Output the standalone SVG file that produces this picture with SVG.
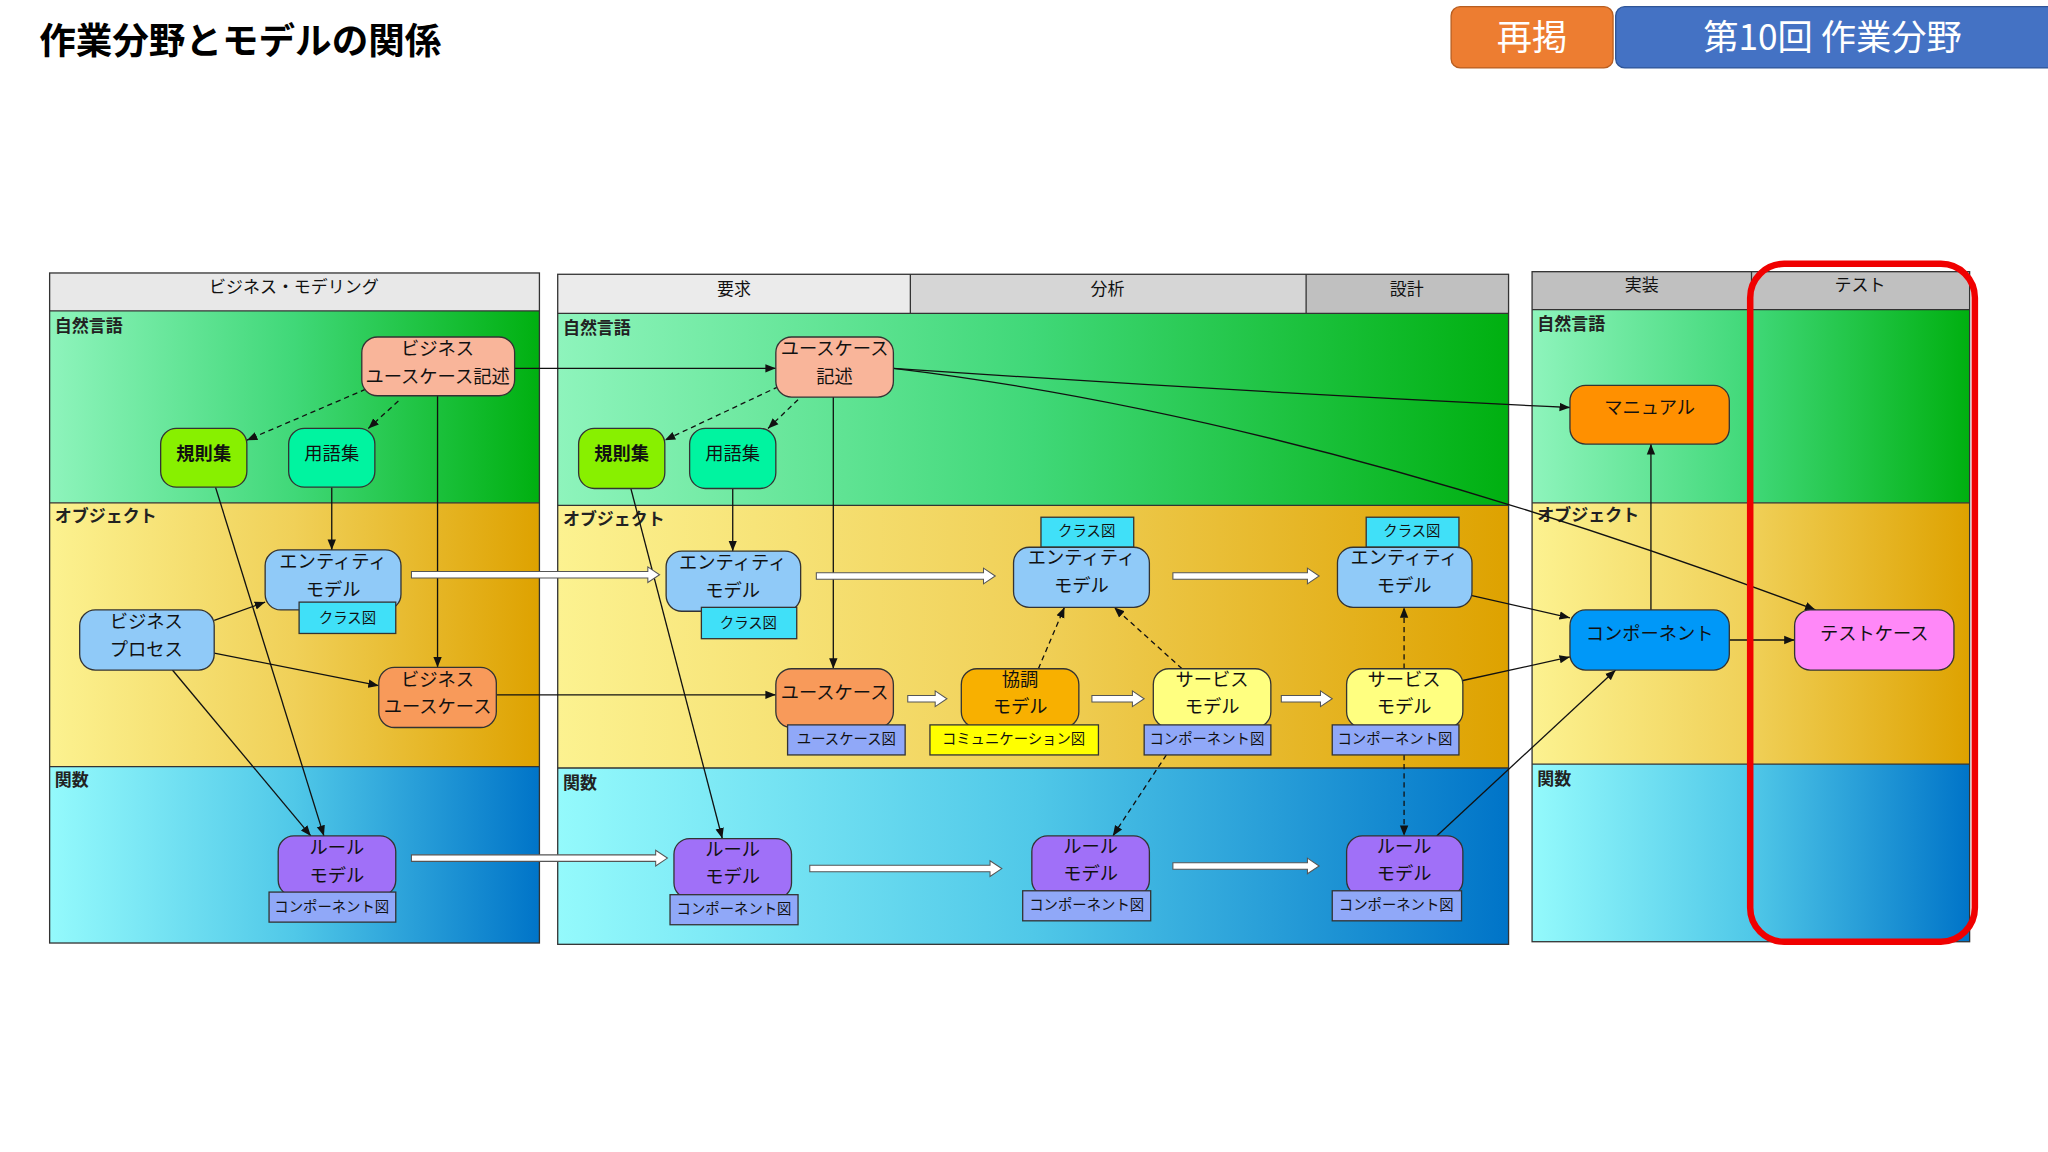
<svg xmlns="http://www.w3.org/2000/svg" width="2048" height="1152" viewBox="0 0 2048 1152">
<style>
text{font-family:"Noto Sans CJK JP","Noto Sans",sans-serif;fill:#111}
.hd{font-size:13px;text-anchor:middle}
.rl{font-size:13px;font-weight:bold;fill:#222}
.n{stroke:#333;stroke-width:1}
.nt{font-size:14px;text-anchor:middle}
.tg{stroke:#333;stroke-width:1}
.tt{font-size:11px;text-anchor:middle}
.c{stroke:#111;stroke-width:1;fill:none;marker-end:url(#ah)}
.d{stroke:#111;stroke-width:1;fill:none;stroke-dasharray:4 3;marker-end:url(#ah)}
.h{fill:#fff;stroke:#555;stroke-width:0.8}
.sep{fill:none;stroke:#333;stroke-width:1}
</style>
<defs>
<linearGradient id="gN" x1="0" x2="1" y1="0" y2="0"><stop offset="0" stop-color="#8ef4bc"/><stop offset="0.5" stop-color="#40d878"/><stop offset="1" stop-color="#00b010"/></linearGradient>
<linearGradient id="gO" x1="0" x2="1" y1="0" y2="0"><stop offset="0" stop-color="#fcf290"/><stop offset="0.5" stop-color="#f0d058"/><stop offset="1" stop-color="#dea200"/></linearGradient>
<linearGradient id="gF" x1="0" x2="1" y1="0" y2="0"><stop offset="0" stop-color="#94fafc"/><stop offset="0.5" stop-color="#50c8e8"/><stop offset="1" stop-color="#0074c8"/></linearGradient>
<marker id="ah" viewBox="0 0 10 10" refX="10" refY="5" markerWidth="8" markerHeight="8" markerUnits="userSpaceOnUse" orient="auto"><path d="M0,1 L10,5 L0,9 Z" fill="#111"/></marker>
</defs>
<rect width="2048" height="1152" fill="#fff"/>
<g transform="scale(1.30612)">
<g id="title">
<text x="30" y="41" style="font-size:28px;font-weight:bold;fill:#000">作業分野とモデルの関係</text>
<rect x="1111" y="5" width="124" height="47" rx="7" fill="#ed7d31" stroke="#b85e20"/>
<text x="1173" y="38" style="font-size:27px;fill:#fff;text-anchor:middle">再掲</text>
<rect x="1237" y="5" width="340" height="47" rx="7" fill="#4472c4" stroke="#2f5597"/>
<text x="1403" y="38" style="font-size:27px;fill:#fff;text-anchor:middle">第10回 作業分野</text>
</g>
<g id="panels">
<rect x="38" y="238" width="375" height="147" fill="url(#gN)"/>
<rect x="38" y="385" width="375" height="202" fill="url(#gO)"/>
<rect x="38" y="587" width="375" height="135" fill="url(#gF)"/>
<rect x="38" y="209" width="375" height="29" fill="#e8e8e8"/>
<rect x="38" y="209" width="375" height="513" class="sep"/>
<line x1="38" y1="238" x2="413" y2="238" class="sep"/><line x1="38" y1="385" x2="413" y2="385" class="sep"/><line x1="38" y1="587" x2="413" y2="587" class="sep"/>
<text x="225" y="224" class="hd">ビジネス・モデリング</text>
<text x="42" y="254" class="rl">自然言語</text><text x="42" y="400" class="rl">オブジェクト</text><text x="42" y="602" class="rl">関数</text>

<rect x="427" y="240" width="728" height="147" fill="url(#gN)"/>
<rect x="427" y="387" width="728" height="201" fill="url(#gO)"/>
<rect x="427" y="588" width="728" height="135" fill="url(#gF)"/>
<rect x="427" y="210" width="270" height="30" fill="#ebebeb"/>
<rect x="697" y="210" width="303" height="30" fill="#d6d6d6"/>
<rect x="1000" y="210" width="155" height="30" fill="#c0c0c0"/>
<rect x="427" y="210" width="728" height="513" class="sep"/>
<line x1="697" y1="210" x2="697" y2="240" class="sep"/><line x1="1000" y1="210" x2="1000" y2="240" class="sep"/>
<line x1="427" y1="240" x2="1155" y2="240" class="sep"/><line x1="427" y1="387" x2="1155" y2="387" class="sep"/><line x1="427" y1="588" x2="1155" y2="588" class="sep"/>
<text x="562" y="226" class="hd">要求</text><text x="848" y="226" class="hd">分析</text><text x="1077" y="226" class="hd">設計</text>
<text x="431" y="256" class="rl">自然言語</text><text x="431" y="402" class="rl">オブジェクト</text><text x="431" y="604" class="rl">関数</text>

<rect x="1173" y="237" width="335" height="148" fill="url(#gN)"/>
<rect x="1173" y="385" width="335" height="200" fill="url(#gO)"/>
<rect x="1173" y="585" width="335" height="136" fill="url(#gF)"/>
<rect x="1173" y="208" width="335" height="29" fill="#c0c0c0"/>
<rect x="1173" y="208" width="335" height="513" class="sep"/>
<line x1="1341" y1="208" x2="1341" y2="237" class="sep"/>
<line x1="1173" y1="237" x2="1508" y2="237" class="sep"/><line x1="1173" y1="385" x2="1508" y2="385" class="sep"/><line x1="1173" y1="585" x2="1508" y2="585" class="sep"/>
<text x="1257" y="223" class="hd">実装</text><text x="1424" y="223" class="hd">テスト</text>
<text x="1177" y="253" class="rl">自然言語</text><text x="1177" y="399" class="rl">オブジェクト</text><text x="1177" y="601" class="rl">関数</text>
</g>

<g id="connectors">
<path class="c" d="M394,282 H594"/>
<path class="c" d="M335,303 V511"/>
<path class="c" d="M254,373 V421"/>
<path class="c" d="M164,475 L203,461"/>
<path class="c" d="M164,500 L290,525"/>
<path class="c" d="M132,513 L238,640"/>
<path class="c" d="M165,373 L248,640"/>
<path class="c" d="M380,532 H594"/>
<path class="c" d="M638,304 V512"/>
<path class="c" d="M561,374 V422"/>
<path class="c" d="M483,374 L553,642"/>
<path class="c" d="M684,282 Q950,300 1202,312"/>
<path class="c" d="M684,282 Q1000,320 1390,467"/>
<path class="c" d="M1127,456 L1202,473"/>
<path class="c" d="M1120,521 L1202,503"/>
<path class="c" d="M1100,640 L1237,513"/>
<path class="c" d="M1264,467 V340"/>
<path class="c" d="M1324,490 H1374"/>
<path class="d" d="M280,298 L189,337"/>
<path class="d" d="M305,307 L282,328"/>
<path class="d" d="M596,296 L509,337"/>
<path class="d" d="M611,306 L588,328"/>
<path class="d" d="M795,512 L815,465"/>
<path class="d" d="M905,512 L853,465"/>
<path class="d" d="M1075,512 V465"/>
<path class="d" d="M893,578 L852,640"/>
<path class="d" d="M1075,578 V640"/>
<path class="h" d="M315,437.5 H496 V434 L505,440 L496,446 V442.5 H315 Z"/>
<path class="h" d="M315,654.5 H502 V651 L511,657 L502,663 V659.5 H315 Z"/>
<path class="h" d="M625,438.5 H753 V435 L762,441 L753,447 V443.5 H625 Z"/>
<path class="h" d="M898,438.5 H1001 V435 L1010,441 L1001,447 V443.5 H898 Z"/>
<path class="h" d="M695,532.5 H716 V529 L725,535 L716,541 V537.5 H695 Z"/>
<path class="h" d="M836,532.5 H867 V529 L876,535 L867,541 V537.5 H836 Z"/>
<path class="h" d="M981,532.5 H1011 V529 L1020,535 L1011,541 V537.5 H981 Z"/>
<path class="h" d="M620,662.5 H758 V659 L767,665 L758,671 V667.5 H620 Z"/>
<path class="h" d="M898,660.5 H1001 V657 L1010,663 L1001,669 V665.5 H898 Z"/>
</g>

<g id="n-bucd"><rect class="n" x="277" y="258" width="117" height="45" rx="12" fill="#f9b59a"/><text class="nt" x="335" y="272">ビジネス</text><text class="nt" x="335" y="293">ユースケース記述</text></g>
<g id="n-kisoku1"><rect class="n" x="123" y="328" width="66" height="45" rx="12" fill="#88f000"/><text class="nt" x="156" y="352" style="font-weight:bold">規則集</text></g>
<g id="n-yougo1"><rect class="n" x="221" y="328" width="66" height="45" rx="12" fill="#00f4a0"/><text class="nt" x="254" y="352">用語集</text></g>
<g id="n-ent1"><rect class="n" x="203" y="421" width="104" height="46" rx="12" fill="#90caf8"/><text class="nt" x="255" y="435">エンティティ</text><text class="nt" x="255" y="456">モデル</text><rect class="tg" x="229" y="461" width="74" height="24" fill="#40e0f8"/><text class="tt" x="266" y="477">クラス図</text></g>
<g id="n-bp"><rect class="n" x="61" y="467" width="103" height="46" rx="12" fill="#90caf8"/><text class="nt" x="112" y="481">ビジネス</text><text class="nt" x="112" y="502">プロセス</text></g>
<g id="n-buc"><rect class="n" x="290" y="511" width="90" height="46" rx="12" fill="#f89a5a"/><text class="nt" x="335" y="525">ビジネス</text><text class="nt" x="335" y="546">ユースケース</text></g>
<g id="n-rule1"><rect class="n" x="213" y="640" width="90" height="46" rx="12" fill="#a070f8"/><text class="nt" x="258" y="654">ルール</text><text class="nt" x="258" y="675">モデル</text><rect class="tg" x="206" y="683" width="97" height="23" fill="#90a8f8"/><text class="tt" x="254" y="698">コンポーネント図</text></g>

<g id="n-ucd"><rect class="n" x="594" y="258" width="90" height="46" rx="12" fill="#f9b59a"/><text class="nt" x="639" y="272">ユースケース</text><text class="nt" x="639" y="293">記述</text></g>
<g id="n-kisoku2"><rect class="n" x="443" y="328" width="66" height="46" rx="12" fill="#88f000"/><text class="nt" x="476" y="352" style="font-weight:bold">規則集</text></g>
<g id="n-yougo2"><rect class="n" x="528" y="328" width="66" height="46" rx="12" fill="#00f4a0"/><text class="nt" x="561" y="352">用語集</text></g>
<g id="n-ent2"><rect class="n" x="510" y="422" width="103" height="46" rx="12" fill="#90caf8"/><text class="nt" x="561" y="436">エンティティ</text><text class="nt" x="561" y="457">モデル</text><rect class="tg" x="537" y="465" width="73" height="24" fill="#40e0f8"/><text class="tt" x="573" y="481">クラス図</text></g>
<g id="n-uc"><rect class="n" x="594" y="512" width="90" height="45" rx="12" fill="#f89a5a"/><text class="nt" x="639" y="535">ユースケース</text><rect class="tg" x="603" y="555" width="90" height="23" fill="#90a8f8"/><text class="tt" x="648" y="570">ユースケース図</text></g>
<g id="n-kyocho"><rect class="n" x="736" y="512" width="90" height="45" rx="12" fill="#f8b000"/><text class="nt" x="781" y="525">協調</text><text class="nt" x="781" y="546">モデル</text><rect class="tg" x="712" y="555" width="129" height="23" fill="#ffff00"/><text class="tt" x="776" y="570">コミュニケーション図</text></g>
<g id="n-svc1"><rect class="n" x="883" y="512" width="90" height="45" rx="12" fill="#ffff80"/><text class="nt" x="928" y="525">サービス</text><text class="nt" x="928" y="546">モデル</text><rect class="tg" x="876" y="555" width="97" height="23" fill="#90a8f8"/><text class="tt" x="924" y="570">コンポーネント図</text></g>
<g id="n-svc2"><rect class="n" x="1031" y="512" width="89" height="45" rx="12" fill="#ffff80"/><text class="nt" x="1075" y="525">サービス</text><text class="nt" x="1075" y="546">モデル</text><rect class="tg" x="1020" y="555" width="97" height="23" fill="#90a8f8"/><text class="tt" x="1068" y="570">コンポーネント図</text></g>
<g id="n-ent3"><rect class="tg" x="797" y="396" width="71" height="23" fill="#40e0f8"/><text class="tt" x="832" y="410">クラス図</text><rect class="n" x="776" y="419" width="104" height="46" rx="12" fill="#90caf8"/><text class="nt" x="828" y="432">エンティティ</text><text class="nt" x="828" y="453">モデル</text></g>
<g id="n-ent4"><rect class="tg" x="1046" y="396" width="71" height="23" fill="#40e0f8"/><text class="tt" x="1081" y="410">クラス図</text><rect class="n" x="1024" y="419" width="103" height="46" rx="12" fill="#90caf8"/><text class="nt" x="1075" y="432">エンティティ</text><text class="nt" x="1075" y="453">モデル</text></g>
<g id="n-rule2"><rect class="n" x="516" y="642" width="90" height="46" rx="12" fill="#a070f8"/><text class="nt" x="561" y="655">ルール</text><text class="nt" x="561" y="676">モデル</text><rect class="tg" x="513" y="685" width="98" height="23" fill="#90a8f8"/><text class="tt" x="562" y="700">コンポーネント図</text></g>
<g id="n-rule3"><rect class="n" x="790" y="640" width="90" height="46" rx="12" fill="#a070f8"/><text class="nt" x="835" y="653">ルール</text><text class="nt" x="835" y="674">モデル</text><rect class="tg" x="783" y="682" width="98" height="23" fill="#90a8f8"/><text class="tt" x="832" y="697">コンポーネント図</text></g>
<g id="n-rule4"><rect class="n" x="1031" y="640" width="89" height="46" rx="12" fill="#a070f8"/><text class="nt" x="1075" y="653">ルール</text><text class="nt" x="1075" y="674">モデル</text><rect class="tg" x="1020" y="682" width="99" height="23" fill="#90a8f8"/><text class="tt" x="1069" y="697">コンポーネント図</text></g>

<g id="n-manual"><rect class="n" x="1202" y="295" width="122" height="45" rx="12" fill="#ff9000"/><text class="nt" x="1263" y="317">マニュアル</text></g>
<g id="n-comp"><rect class="n" x="1202" y="467" width="122" height="46" rx="12" fill="#0098f8"/><text class="nt" x="1263" y="490">コンポーネント</text></g>
<g id="n-test"><rect class="n" x="1374" y="467" width="122" height="46" rx="12" fill="#ff88f8"/><text class="nt" x="1435" y="490">テストケース</text></g>

<rect x="1340" y="202" width="172" height="519" rx="26" fill="none" stroke="#f00000" stroke-width="5"/>
</g>
</svg>
